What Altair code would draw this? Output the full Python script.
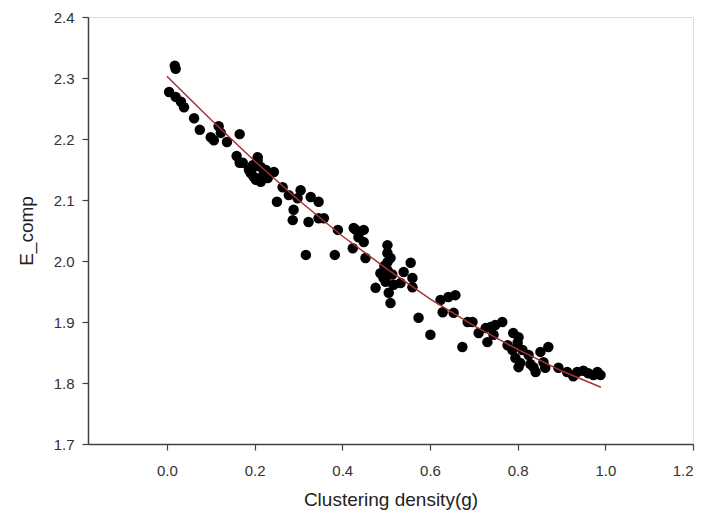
import altair as alt
import pandas as pd

# scatter data
pt_x = [0.005, 0.018, 0.020, 0.020, 0.032, 0.039, 0.062, 0.075, 0.100, 0.107,
        0.118, 0.123, 0.137, 0.166, 0.159, 0.166, 0.173, 0.191, 0.198, 0.207,
        0.198, 0.214, 0.221, 0.230, 0.244, 0.203, 0.196, 0.214, 0.207, 0.226,
        0.264, 0.278, 0.305, 0.298, 0.328, 0.346, 0.251, 0.289, 0.287, 0.323,
        0.346, 0.358, 0.317, 0.383, 0.390, 0.426, 0.449, 0.437, 0.449, 0.424,
        0.453, 0.431, 0.503, 0.503, 0.503, 0.503, 0.494, 0.476, 0.499, 0.517,
        0.506, 0.510, 0.533, 0.540, 0.556, 0.560, 0.560, 0.574, 0.601, 0.624,
        0.642, 0.658, 0.629, 0.654, 0.674, 0.686, 0.697, 0.711, 0.727, 0.738,
        0.749, 0.765, 0.731, 0.745, 0.790, 0.802, 0.800, 0.788, 0.795, 0.802,
        0.811, 0.825, 0.836, 0.841, 0.852, 0.870, 0.859, 0.863, 0.893, 0.913,
        0.927, 0.936, 0.950, 0.961, 0.973, 0.989, 0.982, 0.205, 0.219, 0.187,
        0.510, 0.496, 0.514, 0.487, 0.806, 0.829, 0.777]
pt_y = [2.277, 2.320, 2.315, 2.269, 2.261, 2.252, 2.234, 2.215, 2.203, 2.198,
        2.221, 2.210, 2.195, 2.208, 2.172, 2.161, 2.161, 2.144, 2.154, 2.170,
        2.138, 2.130, 2.149, 2.136, 2.146, 2.133, 2.157, 2.154, 2.165, 2.149,
        2.121, 2.108, 2.116, 2.103, 2.105, 2.097, 2.097, 2.084, 2.067, 2.064,
        2.070, 2.070, 2.010, 2.010, 2.051, 2.054, 2.051, 2.039, 2.031, 2.021,
        2.005, 2.051, 2.026, 2.013, 1.998, 1.985, 1.972, 1.956, 1.966, 1.961,
        1.948, 1.931, 1.964, 1.982, 1.997, 1.972, 1.957, 1.907, 1.879, 1.936,
        1.941, 1.944, 1.916, 1.915, 1.859, 1.900, 1.900, 1.882, 1.890, 1.892,
        1.895, 1.900, 1.867, 1.879, 1.882, 1.875, 1.866, 1.854, 1.841, 1.826,
        1.854, 1.846, 1.826, 1.818, 1.851, 1.859, 1.834, 1.825, 1.825, 1.818,
        1.811, 1.818, 1.820, 1.816, 1.813, 1.813, 1.818, 2.162, 2.140, 2.150,
        2.005, 1.992, 1.978, 1.980, 1.833, 1.831, 1.862]

# fitted curve
fit_x = [0.0, 0.1, 0.2, 0.3, 0.4, 0.5, 0.6, 0.7, 0.8, 0.9, 0.99]
fit_y = [2.303, 2.232, 2.164, 2.100, 2.041, 1.988, 1.938, 1.894, 1.855, 1.820, 1.793]

x_ticks = [0.0, 0.2, 0.4, 0.6, 0.8, 1.0, 1.2]
y_ticks = [1.7, 1.8, 1.9, 2.0, 2.1, 2.2, 2.3, 2.4]

pts = pd.DataFrame({"x": pt_x, "y": pt_y})
fit = pd.DataFrame({"x": fit_x, "y": fit_y})

FONT = "Liberation Sans"

xs = alt.Scale(domain=[-0.18, 1.2], nice=False, zero=False)
ys = alt.Scale(domain=[1.7, 2.4], nice=False, zero=False)

x_axis = alt.Axis(values=x_ticks, format=".1f", title="Clustering density(g)",
                  grid=False, tickSize=6, labelPadding=13, titlePadding=12,
                  labelFontSize=15, titleFontSize=19, labelFont=FONT, titleFont=FONT,
                  labelColor="#333333", titleColor="#222222", titleFontWeight="normal",
                  domainColor="#404040", tickColor="#404040", domainWidth=1.5, tickWidth=1.2)
y_axis = alt.Axis(values=y_ticks, format=".1f", title="E_comp",
                  grid=False, tickSize=6, labelPadding=8, titlePadding=17,
                  labelFontSize=15, titleFontSize=19, labelFont=FONT, titleFont=FONT,
                  labelColor="#333333", titleColor="#222222", titleFontWeight="normal",
                  domainColor="#404040", tickColor="#404040", domainWidth=1.5, tickWidth=1.2)

points = alt.Chart(pts).mark_circle(color="black", opacity=1, size=110).encode(
    x=alt.X("x:Q", scale=xs, axis=x_axis),
    y=alt.Y("y:Q", scale=ys, axis=y_axis),
)

line = alt.Chart(fit).mark_line(color="#a83232", strokeWidth=1.5).encode(
    x=alt.X("x:Q", scale=xs),
    y=alt.Y("y:Q", scale=ys),
)

chart = (points + line).properties(
    width=605, height=427,
    autosize=alt.AutoSizeParams(type="none"),
    padding={"left": 80, "top": 9, "right": 4, "bottom": 70},
).configure_view(stroke="#404040", strokeWidth=1.5).configure(background="white")

chart.save("out.html", embed_options={"renderer": "svg", "actions": False})
